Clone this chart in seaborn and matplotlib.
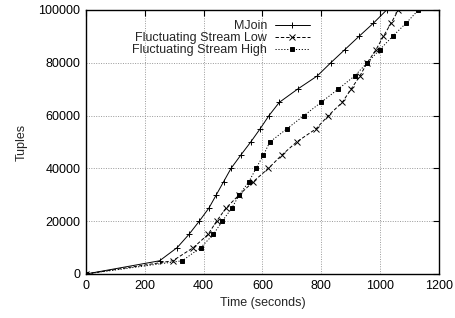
import matplotlib
matplotlib.use('Agg')
import matplotlib.pyplot as plt
import pandas as pd
import seaborn as sns

# tuples processed, sampled every 5000
tuples = list(range(0, 100001, 5000))

mjoin_time = [0, 250, 310, 350, 385, 418, 443, 468, 493, 526, 560,
              592, 622, 657, 719, 786, 832, 880, 928, 977, 1022]
low_time = [0, 295, 365, 415, 444, 476, 521, 569, 620, 665, 716,
            782, 824, 871, 901, 931, 956, 986, 1011, 1037, 1062]
high_time = [0, 327, 390, 433, 463, 496, 521, 554, 578, 603, 625,
             683, 741, 799, 857, 913, 956, 999, 1042, 1088, 1130]

names = ['MJoin', 'Fluctuating Stream Low', 'Fluctuating Stream High']

sns.set_style('white')
plt.rcParams['font.family'] = ['Liberation Sans', 'DejaVu Sans']
plt.rcParams['font.size'] = 9

fig = plt.figure(figsize=(4.56, 3.18), dpi=100)
ax = fig.add_axes([0.1886, 0.1384, 0.7741, 0.8302])

styles = [('+', '-'), ('x', (0, (3.5, 2))), ('s', (0, (1.2, 1.8)))]
for name, times, (mk, ls) in zip(names, [mjoin_time, low_time, high_time], styles):
    df = pd.DataFrame({'Time (seconds)': times, 'Tuples': tuples})
    sns.lineplot(x='Time (seconds)', y='Tuples', data=df, label=name,
                 marker=mk, linestyle=ls, color='black', linewidth=0.7,
                 markersize=3.8 if mk != 's' else 2.6, markeredgewidth=0.7,
                 markeredgecolor='black', markerfacecolor='black',
                 sort=False, estimator=None, ax=ax)

ax.set_xlim(0, 1200)
ax.set_ylim(0, 100000)
ax.set_xticks(range(0, 1201, 200))
ax.set_yticks(range(0, 100001, 20000))
ax.grid(True, linestyle=(0, (1, 1.5)), color='#999999', linewidth=0.7)
ax.tick_params(direction='in', top=True, right=True, length=4, width=0.8,
               labelsize=9, colors='black', pad=4)
for s in ax.spines.values():
    s.set_color('black')
    s.set_linewidth(1.0)
ax.set_xlabel('Time (seconds)', fontsize=9)
ax.set_ylabel('Tuples', fontsize=9, labelpad=8)

leg = ax.legend(loc='upper right', bbox_to_anchor=(0.662, 1.0), frameon=False,
                markerfirst=False, handlelength=2.8, handletextpad=0.6,
                labelspacing=0.0, borderpad=0.3, fontsize=9)

plt.savefig('out.png', dpi=100)
